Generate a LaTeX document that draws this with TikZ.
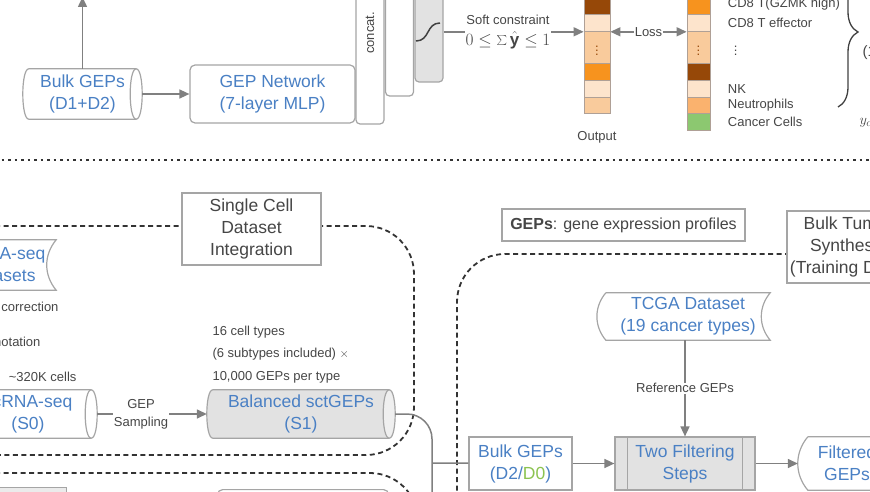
\documentclass[tikz,border=0pt]{standalone}
\usepackage{fontspec}
\setmainfont{Liberation Sans}
\usetikzlibrary{arrows.meta, positioning, decorations.pathreplacing}

\definecolor{datablue}{RGB}{74,128,196}
\definecolor{linegray}{RGB}{128,128,128}
\definecolor{boxgray}{RGB}{165,165,165}
\definecolor{txtgray}{RGB}{70,70,70}
\definecolor{fillgray}{RGB}{226,226,226}
\definecolor{cellline}{RGB}{175,160,150}
\definecolor{cdark}{RGB}{150,72,8}
\definecolor{clight}{RGB}{253,228,204}
\definecolor{cpeach}{RGB}{249,203,156}
\definecolor{corange}{RGB}{247,147,30}
\definecolor{cpeachb}{RGB}{250,178,110}
\definecolor{cgreen}{RGB}{140,200,112}
\definecolor{dzgreen}{RGB}{140,195,80}

\begin{document}
\begin{tikzpicture}[
        x=1pt, y=-1pt,
        every node/.style={font=\fontsize{17.5}{22}\selectfont, text=txtgray},
        small/.style={font=\fontsize{13}{21}\selectfont},
        data/.style={align=center, text=datablue, inner sep=0pt},
        rbox/.style={data, draw=boxgray, line width=1.2pt, rounded corners=5pt, fill=white},
        sbox/.style={draw=boxgray, line width=1.2pt, align=center, fill=white, inner sep=0pt},
        outline/.style={draw=boxgray, line width=1.2pt},
        layer/.style={outline, rounded corners=4pt, fill=white, minimum width=28pt},
        cell/.style={draw=cellline, line width=0.8pt, minimum width=26pt, inner sep=0pt, anchor=north},
        conn/.style={draw=linegray, line width=1.5pt},
        arr/.style={conn, -{Triangle[length=10pt, width=9pt]}},
        lbl/.style={small, fill=white, inner sep=1pt, align=center},
        region/.style={draw=black!80, line width=1.8pt, dash pattern=on 5pt off 3.5pt, rounded corners=48pt},
        sep/.style={draw=black!80, line width=2.8pt, dash pattern=on 2.5pt off 4pt}
    ]
    \useasboundingbox (0,0) rectangle (870,492);

    % training part
    \node[data, fill=white, minimum width=107pt, minimum height=50pt] (bulk1) at (82.5,94) {Bulk GEPs\\(D1+D2)};
    \node[rbox, minimum width=165pt, minimum height=58pt] (net) at (272.5,94) {GEP Network\\(7-layer MLP)};
    \node[layer, minimum height=144pt] (cat) at (370,52) {};
    \node[layer, minimum height=116pt] (hid) at (399.5,38) {};
    \node[layer, fill=fillgray, minimum height=102pt] (sig) at (429,31) {};
    \node[small, rotate=90] (catlbl) at (370,33) {concat.};
    \draw[line width=1.5pt, black!75] (416,41) .. controls (430,41) and (426,23) .. (440,23);

    % output and ground truth
    \foreach \i/\t/\b/\c in {1/-10/14/cdark, 2/14/31/clight, 3/31/63/cpeach, 4/63/80/corange, 5/80/97/clight, 6/97/113/cpeach}
        \node[cell, fill=\c, minimum height={\b-\t}] (out\i) at (597,\t) {};
    \foreach \i/\t/\b/\c in {1/-7/14/corange, 2/14/31/clight, 3/31/63/cpeach, 4/63/80/cdark, 5/80/97/clight, 6/97/113/cpeachb, 7/113/130/cgreen}
        \node[cell, fill=\c, minimum width=23pt, minimum height={\b-\t}] (gt\i) at (698.5,\t) {};
    \node[small, text=cdark] (odots) at (out3) {$\vdots$};
    \node[small, text=cdark] (gdots) at (gt3) {$\vdots$};
    \node[small, below=14pt of out6] (outlbl) {Output};

    \node[small, right=14pt of gt1] (lab1) {CD8 T(GZMK high)};
    \node[small, right=14pt of gt2] (lab2) {CD8 T effector};
    \node[small, right=20pt of gt3] (lab3) {$\vdots$};
    \node[small, right=14pt of gt5] (lab5) {NK};
    \node[small, right=14pt of gt6] (lab6) {Neutrophils};
    \node[small, right=14pt of gt7] (lab7) {Cancer Cells};

    \draw[arr] (sig.east |- out2.south) -- (out2.south west)
        node[lbl, pos=0.46, text=txtgray] {Soft constraint\\{\fontsize{17}{21}\selectfont$0\le\sum\hat{\mathbf{y}}\le 1$}};
    \draw[conn, {Triangle[length=10pt, width=9pt]}-{Triangle[length=10pt, width=9pt]}] (out2.south east) -- (gt2.south west)
        node[lbl, midway] {Loss};

    \coordinate (bt) at (838,-43);
    \coordinate (bb) at (838,107);
    \draw[decorate, decoration={brace, amplitude=20pt}, line width=1.3pt, black!75] (bt) -- (bb);
    \node[anchor=west, font=\fontsize{15}{18}\selectfont] (frac) at (859,53) {(1};
    \node[anchor=west, font=\fontsize{15}{18}\selectfont] (yc) at (856,123) {$y_c$};

    % separator
    \draw[sep] (-5,160) -- (875,160);

    % dashed regions
    \draw[region] (-5,226) -- (414,226) -- (414,455) -- (-5,455);
    \draw[region] (-5,473) -- (418,473) -- (418,560);
    \draw[region] (875,254) -- (457,254) -- (457,560);

    \node[sbox, minimum width=139pt, minimum height=72pt] (scint) at (251.5,229) {Single Cell\\Dataset\\Integration};
    \node[sbox, font=\fontsize{16}{20}\selectfont, minimum width=243pt, minimum height=32pt] (gepdef) at (623.5,225) {\textbf{GEPs}: gene expression profiles};
    \node[sbox, minimum width=122pt, minimum height=72pt] (synth) at (848,247) {Bulk Tumor\\Synthesis\\(Training Data)};

    % single cell part
    \node[data, minimum width=110pt, minimum height=50pt] (scdata) at (1,265) {scRNA-seq\\Datasets};
    \node[small, anchor=east] (bcor) at (62,307) {correction};
    \node[small, anchor=east] (anno) at (44,342) {annotation};
    \node[small, anchor=east] (ncell) at (80,377) {\char`\~320K cells};
    \node[data, fill=white, minimum width=126pt, minimum height=48pt] (s0) at (28,414) {scRNA-seq\\(S0)};
    \node[data, fill=fillgray, minimum width=176pt, minimum height=48pt] (s1) at (301,414) {Balanced sctGEPs\\(S1)};
    \node[small, align=left, anchor=west, font=\fontsize{13}{22.5}\selectfont] (sctinfo) at (209,354.5)
        {16 cell types\\(6 subtypes included) $\times$\\10,000 GEPs per type};

    % cylinder outlines
    \foreach \n/\f/\e in {bulk1/white/white, s0/white/white, s1/fillgray/fillgray!55} {
        \fill[\f] (\n.north west) .. controls ([xshift=-8pt]\n.north west) and ([xshift=-8pt]\n.south west) .. (\n.south west) -- cycle;
        \filldraw[outline, fill=\e] (\n.north east) .. controls ([xshift=8pt]\n.north east) and ([xshift=8pt]\n.south east) .. (\n.south east)
            .. controls ([xshift=-8pt]\n.south east) and ([xshift=-8pt]\n.north east) .. cycle;
        \draw[outline] (\n.north east) -- (\n.north west) .. controls ([xshift=-8pt]\n.north west) and ([xshift=-8pt]\n.south west) .. (\n.south west) -- (\n.south east);
    }

    \coordinate (uptip) at (82.5,-3);
    \draw[arr] (bulk1.north) -- (uptip);
    \draw[arr] ([xshift=6pt]bulk1.east) -- (net);
    \draw[arr] ([xshift=6pt]s0.east) -- ([xshift=-6pt]s1.west) node[lbl, pos=0.4, font=\fontsize{13}{18}\selectfont] {GEP\\Sampling};

    \node[outline, fill=fillgray!70, minimum width=80pt, minimum height=30pt, anchor=north east] (nexta) at (67,487) {};
    \node[outline, rounded corners=5pt, minimum width=171pt, minimum height=30pt, anchor=north west] (nextb) at (217,489) {};

    % bulk synthesis part
    \node[data, minimum width=164pt, minimum height=47pt] (tcga) at (688,316.5) {TCGA Dataset\\(19 cancer types)};
    \node[sbox, text=datablue, minimum width=103pt, minimum height=53pt] (bulk2) at (520.5,463.5) {Bulk GEPs\\(D2/\textcolor{dzgreen}{D0})};
    \node[sbox, fill=fillgray, text=datablue, minimum width=140pt, minimum height=53pt] (flt) at (685,463.5) {Two Filtering\\Steps};
    \node[data, minimum width=78pt, minimum height=53pt] (filt) at (847,463.5) {Filtered\\GEPs};
    \draw[outline] ([xshift=13pt]flt.north west) -- ([xshift=13pt]flt.south west);
    \draw[outline] ([xshift=-13pt]flt.north east) -- ([xshift=-13pt]flt.south east);
    \foreach \n in {scdata, tcga, filt}
        \draw[outline] (\n.north west) -- (\n.north east) to[bend right=40] (\n.south east)
            -- (\n.south west) to[bend left=40] (\n.north west);

    \coordinate (trunk) at (432,463);
    \coordinate (trunkend) at (432,520);
    \draw[conn, rounded corners=25pt] ([xshift=6pt]s1.east) -- (s1.east -| trunk) -- (trunkend);
    \draw[conn] (trunk) -- (bulk2);
    \draw[arr] (tcga.south -| flt.north) -- (flt.north) node[lbl, midway] {Reference GEPs};
    \draw[arr] (bulk2) -- (flt);
    \draw[arr] (flt) -- ([xshift=-10pt]filt.west);
\end{tikzpicture}
\end{document}
